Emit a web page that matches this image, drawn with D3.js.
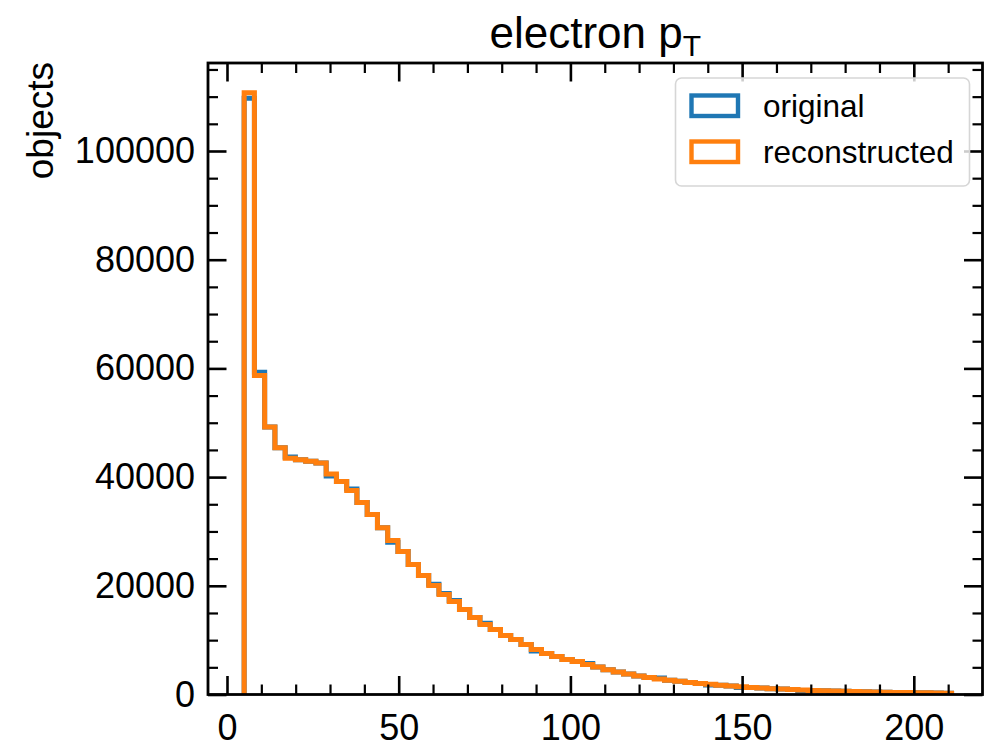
<!DOCTYPE html>
<html>
<head>
<meta charset="utf-8">
<script src="https://cdn.jsdelivr.net/npm/d3@7"></script>
<style>
  body { margin: 0; background: #fff; }
  svg { display: block; font-family: "Liberation Sans", Arial, sans-serif; }
</style>
</head>
<body>
<svg id="chart" width="985" height="752"></svg>
<script>
// histogram: 69 bins between 5 and 211 (electron pT)
var binStart = 5, binEnd = 211, binCount = 69;

var reconstructed = [
  110700, 58700, 49200, 45400, 43450, 43200, 42900, 42600, 40550, 39200,
  37550, 35330, 33100, 30700, 28350, 26300, 23900, 21900, 20050, 18400,
  17100, 15650, 14150, 12900, 11950, 10850, 10100, 9200, 8300, 7550,
  7000, 6450, 6050, 5500, 5050, 4550, 4150, 3750, 3420, 3120,
  2870, 2620, 2420, 2220, 2040, 1880, 1720, 1580, 1440, 1310,
  1190, 1080, 990, 900, 820, 750, 690, 630, 580, 530,
  490, 450, 410, 380, 350, 320, 300, 270, 250
];

var original = [
  109700, 59300, 49200, 45400, 43700, 43200, 42900, 42600, 40200, 39200,
  37800, 35330, 33100, 30700, 28000, 26300, 23900, 21900, 20300, 18600,
  17300, 15650, 14150, 13100, 11950, 10850, 10100, 9200, 8000, 7550,
  7000, 6450, 6050, 5700, 5050, 4550, 4150, 3750, 3420, 3120,
  3050, 2620, 2420, 2220, 2040, 1750, 1720, 1580, 1300, 1310,
  1190, 1080, 990, 900, 700, 750, 690, 630, 580, 530,
  490, 450, 410, 380, 350, 320, 300, 270, 250
];

var seriesNames = ["original", "reconstructed"];
var seriesColors = ["#1f77b4", "#ff7f0e"];

var xMajor = [0, 50, 100, 150, 200];
var xMinor = [10, 20, 30, 40, 60, 70, 80, 90, 110, 120, 130, 140, 160, 170, 180, 190, 210];
var yMajor = [0, 20000, 40000, 60000, 80000, 100000];
var yMinor = [5000, 10000, 15000, 25000, 30000, 35000, 45000, 50000, 55000, 65000, 70000,
              75000, 85000, 90000, 95000, 105000, 110000, 115000];

var plot = {left: 208, right: 982.5, top: 63, bottom: 694.5};

var svg = d3.select("#chart");

var x = d3.scaleLinear().domain([-5.53, 220.0]).range([plot.left, plot.right]);
var y = d3.scaleLinear().domain([0, 116190]).range([plot.bottom, plot.top]);

var binW = (binEnd - binStart) / binCount;
var edges = d3.range(binCount + 1).map(function(i) { return binStart + i * binW; });

svg.append("clipPath").attr("id", "clip")
  .append("rect")
  .attr("x", plot.left).attr("y", plot.top)
  .attr("width", plot.right - plot.left).attr("height", plot.bottom - plot.top);

function stepPoints(vals) {
  var pts = [[edges[0], 0]];
  vals.forEach(function(v, i) {
    pts.push([edges[i], v]);
    pts.push([edges[i + 1], v]);
  });
  pts.push([edges[binCount], 0]);
  return pts;
}

var line = d3.line()
  .x(function(d) { return x(d[0]); })
  .y(function(d) { return y(d[1]); });

var hists = svg.append("g").attr("clip-path", "url(#clip)");
[original, reconstructed].forEach(function(vals, k) {
  hists.append("path")
    .attr("d", line(stepPoints(vals)))
    .attr("fill", "none")
    .attr("stroke", seriesColors[k])
    .attr("stroke-width", 5)
    .attr("stroke-linejoin", "miter");
});

// ticks on all four sides, pointing inwards
function tickAxis(axis, values, size, labels) {
  return axis.tickValues(values).tickSizeInner(-size).tickSizeOuter(0)
    .tickFormat(labels ? d3.format("d") : "");
}

var axes = [
  {g: "translate(0," + plot.bottom + ")", ax: d3.axisBottom(x), maj: xMajor, min: xMinor, lab: true, pad: 20},
  {g: "translate(0," + plot.top + ")", ax: d3.axisTop(x), maj: xMajor, min: xMinor, lab: false},
  {g: "translate(" + plot.left + ",0)", ax: d3.axisLeft(y), maj: yMajor, min: yMinor, lab: true, pad: 13},
  {g: "translate(" + plot.right + ",0)", ax: d3.axisRight(y), maj: yMajor, min: yMinor, lab: false}
];

axes.forEach(function(a) {
  var gMaj = svg.append("g").attr("transform", a.g)
    .call(tickAxis(a.ax, a.maj, 18.5, a.lab).tickPadding(a.pad || 0));
  gMaj.select(".domain").remove();
  gMaj.selectAll(".tick line").attr("stroke", "#000").attr("stroke-width", 2.6);
  gMaj.selectAll(".tick text")
    .attr("font-size", 36)
    .attr("fill", "#000")
    .attr("font-family", "Liberation Sans, Arial, sans-serif");
});

axes.forEach(function(a) {
  var g = svg.append("g").attr("transform", a.g)
    .call(tickAxis(a.ax, a.min, 10, false));
  g.select(".domain").remove();
  g.selectAll(".tick line").attr("stroke", "#000").attr("stroke-width", 2.2);
});

// frame
svg.append("rect")
  .attr("x", plot.left).attr("y", plot.top)
  .attr("width", plot.right - plot.left).attr("height", plot.bottom - plot.top)
  .attr("fill", "none").attr("stroke", "#000").attr("stroke-width", 2.8);

// title
var title = svg.append("text")
  .attr("x", (plot.left + plot.right) / 2)
  .attr("y", 48)
  .attr("text-anchor", "middle")
  .attr("font-size", 44)
  .attr("fill", "#000");
title.append("tspan").text("electron p");
title.append("tspan").attr("font-size", 30).attr("dy", 8).text("T");

// y label
svg.append("text")
  .attr("transform", "translate(53," + (plot.top - 1) + ") rotate(-90)")
  .attr("text-anchor", "end")
  .attr("font-size", 37)
  .attr("fill", "#000")
  .text("objects");

// legend
var legend = svg.append("g");
legend.append("rect")
  .attr("x", 675.5).attr("y", 78)
  .attr("width", 294).attr("height", 108)
  .attr("rx", 6)
  .attr("fill", "#fff").attr("fill-opacity", 0.8)
  .attr("stroke", "#d6d6d6").attr("stroke-width", 1.6);

seriesNames.forEach(function(name, i) {
  var yy = 95.5 + i * 46;
  legend.append("rect")
    .attr("x", 691.5).attr("y", yy)
    .attr("width", 46.5).attr("height", 20.5)
    .attr("fill", "none")
    .attr("stroke", seriesColors[i])
    .attr("stroke-width", 4.4);
  legend.append("text")
    .attr("x", 763).attr("y", 116.5 + i * 46)
    .attr("font-size", 31.5)
    .attr("fill", "#000")
    .text(name);
});
</script>
</body>
</html>
